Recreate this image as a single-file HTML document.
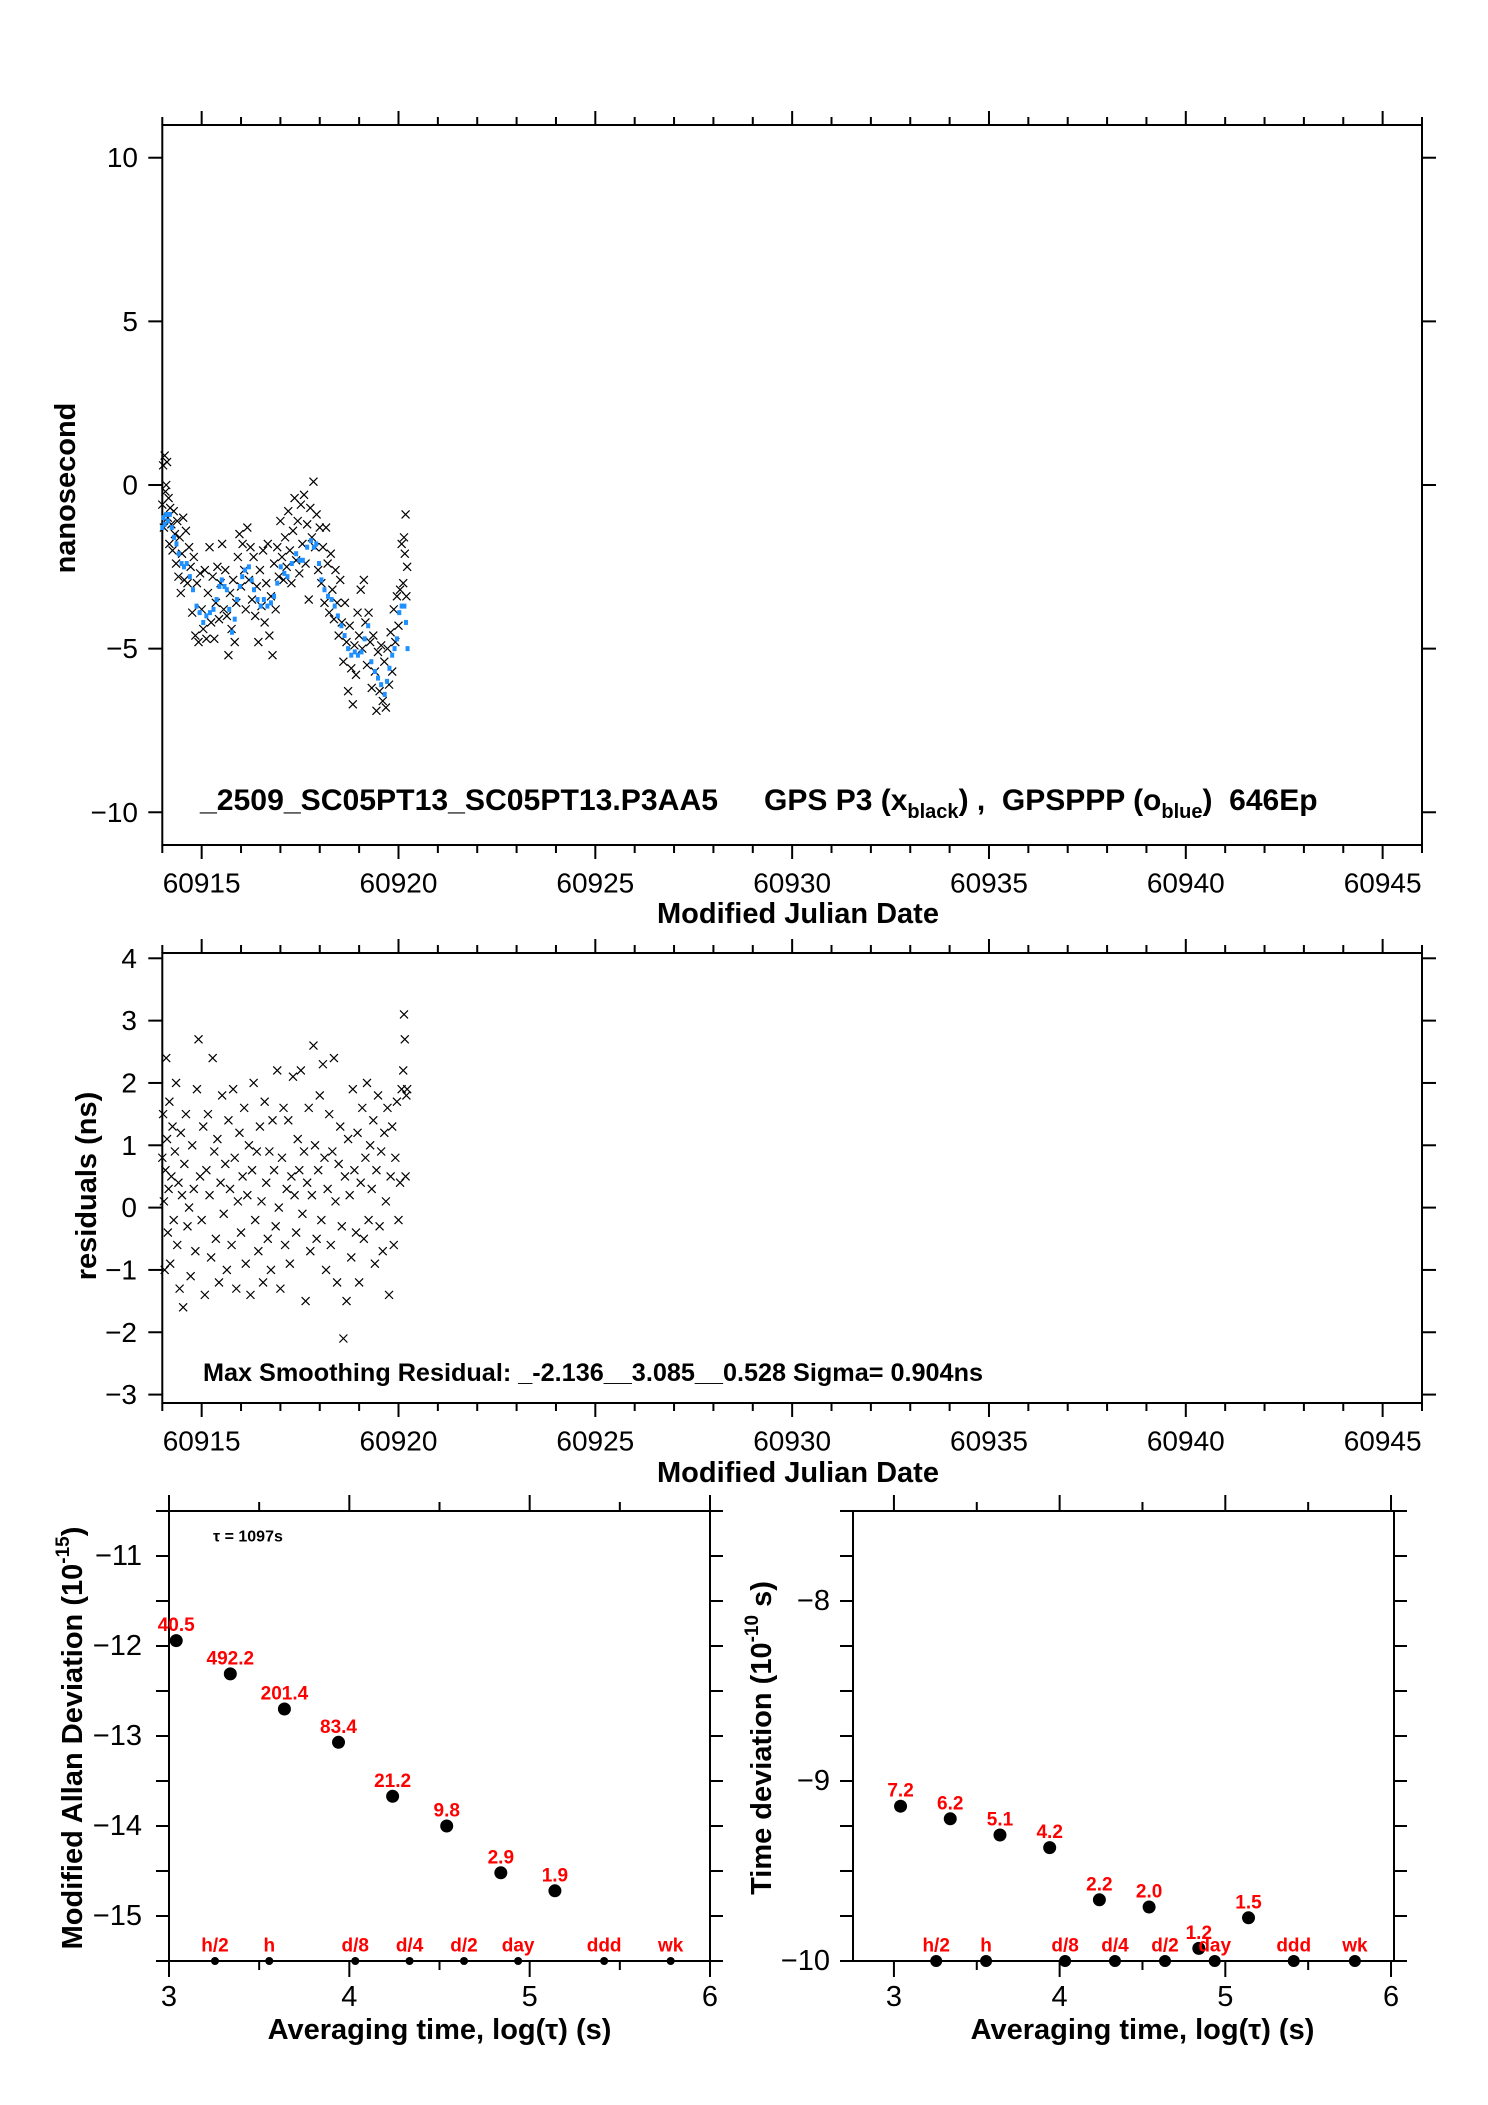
<!DOCTYPE html>
<html><head><meta charset="utf-8"><style>
html,body{margin:0;padding:0;background:#fff}
svg{display:block}
text{font-family:"Liberation Sans",sans-serif}
</style></head><body>
<svg id="chart" width="1488" height="2105" viewBox="0 0 1488 2105" xmlns="http://www.w3.org/2000/svg"></svg>
<script>
// ---------- data ----------
const mjdBase = 60914;
const mjdTicks = [60915,60920,60925,60930,60935,60940,60945];
const phaseTicks = [10,5,0,-5,-10];
const residTicks = [4,3,2,1,0,-1,-2,-3];
const blackT = [0.00,0.02,0.04,0.06,0.08,0.10,0.12,0.14,0.16,0.18,0.20,0.23,0.26,0.29,0.32,0.35,0.38,0.41,0.44,0.47,0.50,0.53,0.56,0.60,0.64,0.68,0.72,0.76,0.80,0.84,0.88,0.92,0.96,1.00,1.04,1.08,1.12,1.16,1.20,1.24,1.28,1.32,1.36,1.40,1.44,1.48,1.52,1.56,1.60,1.64,1.68,1.72,1.76,1.80,1.84,1.88,1.92,1.96,2.00,2.04,2.08,2.12,2.16,2.20,2.24,2.28,2.32,2.36,2.40,2.44,2.48,2.52,2.56,2.60,2.64,2.68,2.72,2.76,2.80,2.84,2.88,2.92,2.96,3.00,3.04,3.08,3.12,3.16,3.20,3.24,3.28,3.32,3.36,3.40,3.44,3.48,3.52,3.56,3.60,3.64,3.68,3.72,3.76,3.80,3.84,3.88,3.92,3.96,4.00,4.04,4.08,4.12,4.16,4.20,4.24,4.28,4.32,4.36,4.40,4.44,4.48,4.52,4.56,4.60,4.64,4.68,4.72,4.76,4.80,4.84,4.88,4.92,4.96,5.00,5.04,5.08,5.12,5.16,5.20,5.24,5.28,5.32,5.36,5.40,5.44,5.48,5.52,5.56,5.60,5.64,5.68,5.72,5.76,5.80,5.84,5.88,5.92,5.96,6.00,6.04,6.08,6.12,6.14,6.16,6.18,6.20,6.22];
const blackV = [-0.6,0.6,-1.3,0.9,-0.2,0.0,0.7,-1.0,-0.4,-1.8,-0.7,-1.2,-2.0,-0.8,-1.5,-2.4,-1.1,-2.8,-1.6,-3.3,-2.1,-1.0,-2.9,-1.4,-3.0,-1.9,-2.5,-3.9,-2.2,-4.6,-3.0,-4.8,-2.7,-3.8,-4.4,-2.6,-4.7,-3.3,-1.9,-4.2,-2.8,-4.7,-3.6,-2.5,-4.1,-3.0,-1.8,-3.8,-2.6,-4.0,-5.2,-3.3,-4.4,-2.9,-4.8,-3.6,-2.2,-1.5,-3.1,-1.8,-2.6,-3.8,-1.3,-2.9,-1.9,-3.5,-2.2,-4.0,-3.1,-4.8,-2.6,-3.7,-2.0,-4.2,-3.0,-1.8,-4.6,-3.4,-5.2,-2.4,-3.8,-1.9,-2.8,-1.1,-2.2,-2.9,-1.6,-2.5,-0.8,-2.0,-3.0,-1.4,-0.4,-2.3,-1.1,-2.7,-0.6,-1.8,-0.3,-2.4,-1.2,-3.5,-0.7,-1.6,0.1,-1.9,-0.9,-2.6,-1.3,-3.0,-1.9,-3.6,-1.3,-2.4,-3.9,-2.1,-3.2,-4.1,-2.6,-3.6,-4.6,-2.9,-4.2,-5.4,-3.6,-4.8,-6.3,-4.3,-5.6,-6.7,-4.9,-5.8,-3.9,-4.6,-3.2,-5.0,-2.9,-4.2,-5.5,-3.9,-4.8,-6.2,-4.6,-5.7,-6.9,-5.1,-6.3,-4.9,-6.6,-5.4,-6.8,-5.0,-6.1,-4.5,-5.7,-3.8,-4.8,-3.4,-4.3,-3.2,-1.8,-3.0,-1.6,-2.1,-0.9,-3.4,-2.5];
const blueT = [0.00,0.03,0.06,0.10,0.14,0.19,0.24,0.30,0.36,0.42,0.49,0.55,0.62,0.70,0.78,0.87,0.95,1.04,1.12,1.21,1.30,1.38,1.45,1.51,1.58,1.64,1.70,1.77,1.84,1.90,1.97,2.03,2.10,2.20,2.27,2.33,2.42,2.50,2.58,2.67,2.76,2.84,2.92,3.01,3.10,3.18,3.29,3.40,3.48,3.57,3.68,3.78,3.85,3.91,3.98,4.04,4.12,4.21,4.30,4.38,4.46,4.55,4.63,4.72,4.80,4.89,4.97,5.06,5.14,5.23,5.31,5.40,5.48,5.56,5.65,5.71,5.77,5.84,5.90,5.96,6.02,6.08,6.15,6.19,6.23];
const blueV = [-1.3,-1.0,-1.2,-0.9,-1.1,-0.9,-1.3,-1.6,-1.8,-2.1,-2.4,-2.5,-2.4,-2.8,-3.2,-3.7,-3.9,-4.2,-4.0,-3.9,-3.8,-3.5,-3.1,-2.9,-3.1,-3.2,-3.8,-4.5,-4.1,-3.5,-3.1,-2.8,-2.6,-2.5,-2.9,-3.2,-3.5,-3.7,-3.5,-3.7,-3.6,-3.4,-3.0,-2.5,-2.7,-2.8,-2.4,-2.1,-2.3,-2.3,-1.9,-1.7,-1.9,-1.8,-2.4,-2.9,-3.2,-3.4,-3.5,-3.7,-4.0,-4.3,-4.6,-5.0,-5.2,-5.1,-5.2,-5.1,-4.7,-4.3,-5.4,-5.7,-5.9,-6.1,-6.4,-6.0,-5.6,-5.2,-5.0,-4.7,-3.9,-3.7,-3.7,-4.2,-5.0];
const residT = [0.00,0.02,0.04,0.06,0.08,0.10,0.12,0.14,0.16,0.18,0.20,0.23,0.26,0.29,0.32,0.35,0.38,0.41,0.44,0.47,0.50,0.53,0.56,0.60,0.64,0.68,0.72,0.76,0.80,0.84,0.88,0.92,0.96,1.00,1.04,1.08,1.12,1.16,1.20,1.24,1.28,1.32,1.36,1.40,1.44,1.48,1.52,1.56,1.60,1.64,1.68,1.72,1.76,1.80,1.84,1.88,1.92,1.96,2.00,2.04,2.08,2.12,2.16,2.20,2.24,2.28,2.32,2.36,2.40,2.44,2.48,2.52,2.56,2.60,2.64,2.68,2.72,2.76,2.80,2.84,2.88,2.92,2.96,3.00,3.04,3.08,3.12,3.16,3.20,3.24,3.28,3.32,3.36,3.40,3.44,3.48,3.52,3.56,3.60,3.64,3.68,3.72,3.76,3.80,3.84,3.88,3.92,3.96,4.00,4.04,4.08,4.12,4.16,4.20,4.24,4.28,4.32,4.36,4.40,4.44,4.48,4.52,4.56,4.60,4.64,4.68,4.72,4.76,4.80,4.84,4.88,4.92,4.96,5.00,5.04,5.08,5.12,5.16,5.20,5.24,5.28,5.32,5.36,5.40,5.44,5.48,5.52,5.56,5.60,5.64,5.68,5.72,5.76,5.80,5.84,5.88,5.92,5.96,6.00,6.04,6.08,6.12,6.14,6.16,6.18,6.20,6.22];
const residV = [0.8,1.5,0.1,-1.0,0.6,2.4,1.1,-0.4,0.3,1.7,-0.9,0.5,1.3,-0.2,0.9,2.0,-0.6,0.4,-1.3,1.2,0.2,-1.6,0.7,1.5,-0.3,0.0,-1.1,1.0,0.3,-0.7,1.9,2.7,0.5,-0.2,1.3,-1.4,0.6,1.5,0.2,-0.8,2.4,0.9,-0.5,1.1,-1.2,0.4,1.8,-0.1,0.7,-1.0,1.4,0.3,-0.6,1.9,0.8,-1.3,0.1,1.2,-0.4,0.5,1.6,-0.9,0.2,1.0,-1.4,0.6,2.0,-0.2,0.9,-0.7,1.3,0.1,-1.2,1.7,0.4,-0.5,0.9,-1.0,1.4,0.6,-0.3,2.2,0.0,-1.3,0.8,1.6,-0.6,0.3,1.4,-0.9,0.5,2.1,0.2,-0.4,1.1,0.6,2.2,-0.1,0.9,-1.5,0.4,1.6,-0.7,0.2,2.6,1.0,-0.5,0.6,1.8,-0.2,2.3,0.8,-1.0,0.3,1.5,-0.6,0.9,2.4,0.1,-1.2,0.7,1.3,-0.3,-2.1,0.5,-1.5,1.1,0.2,-0.8,1.9,0.6,-0.4,1.2,-1.2,0.4,1.6,-0.5,0.8,2.0,-0.2,1.0,0.3,1.4,-0.9,0.6,1.8,-0.3,0.9,-0.7,1.2,0.1,1.6,-1.4,0.5,1.3,-0.6,0.8,1.7,-0.2,0.4,1.9,2.2,3.1,2.7,0.5,1.8,1.9];
const logTau = [3.04,3.34,3.64,3.94,4.24,4.54,4.84,5.14];
const adevV = [-11.94,-12.31,-12.70,-13.07,-13.67,-14.00,-14.52,-14.72];
const adevLabels = ["40.5","492.2","201.4","83.4","21.2","9.8","2.9","1.9"];
const tdevV = [-9.14,-9.21,-9.30,-9.37,-9.66,-9.70,-9.93,-9.76];
const tdevLabels = ["7.2","6.2","5.1","4.2","2.2","2.0","1.2","1.5"];
const refNames = ["h/2","h","d/8","d/4","d/2","day","ddd","wk"];
const refLog = [3.255,3.556,4.033,4.334,4.636,4.936,5.413,5.782];
const logTicks = [3,4,5,6];
const adevTicks = [-11,-12,-13,-14,-15];
const tdevTicks = [-8,-9,-10];

// ---------- helpers ----------
const NS="http://www.w3.org/2000/svg";
const svg=document.getElementById('chart');
function mk(tag,attrs,parent){const e=document.createElementNS(NS,tag);for(const k in attrs)e.setAttribute(k,attrs[k]);(parent||svg).appendChild(e);return e;}
function line(x1,y1,x2,y2,p,w){return mk('line',{x1,y1,x2,y2,stroke:'#000','stroke-width':w||2},p);}
function txt(s,x,y,o,p){const e=mk('text',Object.assign({x,y,'font-size':26,'text-anchor':'middle','dominant-baseline':'central'},o||{}),p);e.textContent=s;return e;}
function lin(d0,d1,p0,p1){return v=>p0+(v-d0)*(p1-p0)/(d1-d0);}
function group(name){const g=mk('g',{});return g;}

// ---------- panel 1: phase ----------
const P1={l:162.3,r:1422,t:125,b:845};
const x1=lin(60914,60946,P1.l,P1.r), y1=lin(11,-11,P1.t,P1.b);
function mjdFrame(P,xs,g){
  mk('rect',{x:P.l,y:P.t,width:P.r-P.l,height:P.b-P.t,fill:'none',stroke:'#000','stroke-width':2},g);
  for(let d=60914;d<=60946;d++){const X=xs(d);const L=(d%5===0)?14:8;line(X,P.t,X,P.t-L,g);line(X,P.b,X,P.b+L,g);}
}
const g1=group('phase-plot');
mjdFrame(P1,x1,g1);
phaseTicks.forEach(v=>{const Y=y1(v);line(P1.l,Y,P1.l-14,Y,g1);line(P1.r,Y,P1.r+14,Y,g1);
  txt(String(v).replace('-','\u2212'),138,Y,{'text-anchor':'end','font-size':28},g1);});
mjdTicks.forEach(m=>txt(String(m),x1(m),883,{'font-size':28},g1));
const t1=txt('Modified Julian Date',798,914,{'font-weight':'bold','font-size':29},g1);
const yt1=txt('nanosecond',0,0,{'font-weight':'bold','font-size':29,transform:'translate(66,488) rotate(-90)'},g1);

const ann=mk('text',{x:200,y:810,'font-size':30,'font-weight':'bold',textLength:518,lengthAdjust:'spacingAndGlyphs'},g1);

ann.textContent='_2509_SC05PT13_SC05PT13.P3AA5';
const ann2b=mk('text',{x:764,y:810,'font-size':30,'font-weight':'bold'},g1);

ann2b.innerHTML='GPS P3 (x<tspan font-size="20" dy="8">black</tspan><tspan dy="-8">) ,&#160; GPSPPP (o</tspan><tspan font-size="20" dy="8">blue</tspan><tspan dy="-8">)&#160; 646Ep</tspan>';
const bs=group('gps-p3-series');g1.appendChild(bs);
blackT.forEach((t,i)=>{const X=x1(mjdBase+t),Y=y1(blackV[i]);
  const p=mk('path',{d:`M${X-4},${Y-4}L${X+4},${Y+4}M${X-4},${Y+4}L${X+4},${Y-4}`,stroke:'#000','stroke-width':1.2},bs);
  });
const bl=group('gpsppp-series');g1.appendChild(bl);
blueT.forEach((t,i)=>{const X=x1(mjdBase+t),Y=y1(blueV[i]);
  const r=mk('rect',{x:X-2,y:Y-2.5,width:4,height:5,fill:'#1e90ff'},bl);
  });

// ---------- panel 2: residuals ----------
const P2={l:162.3,r:1422,t:953,b:1403};
const x2=lin(60914,60946,P2.l,P2.r), y2=lin(4.085,-3.135,P2.t,P2.b);
const g2=group('residual-plot');
mjdFrame(P2,x2,g2);
residTicks.forEach(v=>{const Y=y2(v);line(P2.l,Y,P2.l-14,Y,g2);line(P2.r,Y,P2.r+14,Y,g2);
  txt(String(v).replace('-','\u2212'),137,Y,{'text-anchor':'end','font-size':28},g2);});
mjdTicks.forEach(m=>txt(String(m),x2(m),1441,{'font-size':28},g2));
const t2=txt('Modified Julian Date',798,1473,{'font-weight':'bold','font-size':29},g2);
const yt2=txt('residuals (ns)',0,0,{'font-weight':'bold','font-size':29,transform:'translate(87,1186) rotate(-90)'},g2);

const ann2=txt('Max Smoothing Residual: _-2.136__3.085__0.528  Sigma= 0.904ns',203,1373,{'text-anchor':'start','font-weight':'bold','font-size':25,textLength:780,lengthAdjust:'spacingAndGlyphs'},g2);

residT.forEach((t,i)=>{const X=x2(mjdBase+t),Y=y2(residV[i]);
  const p=mk('path',{d:`M${X-4},${Y-4}L${X+4},${Y+4}M${X-4},${Y+4}L${X+4},${Y-4}`,stroke:'#000','stroke-width':1.2},g2);
  });

// ---------- panels 3/4 ----------
function devPanel(name,P,xd,yd,yTicks,minorStep,vals,labels,title,titleX,labelX,dotR){
  const g=group(name);
  const xs=lin(xd[0],xd[1],P.l,P.r), ys=lin(yd[0],yd[1],P.t,P.b);
  mk('rect',{x:P.l,y:P.t,width:P.r-P.l,height:P.b-P.t,fill:'none',stroke:'#000','stroke-width':2},g);
  for(let v=3;v<=6.001;v+=0.5){const X=xs(v);const L=(Math.abs(v-Math.round(v))<0.01)?16:9;line(X,P.t,X,P.t-L,g);line(X,P.b,X,P.b+L,g);}
  for(let v=Math.ceil(yd[1]/minorStep)*minorStep;v<=yd[0]+1e-6;v+=minorStep){const Y=ys(v);line(P.l,Y,P.l-13,Y,g);line(P.r,Y,P.r+13,Y,g);}
  yTicks.forEach(v=>txt(String(v).replace('-','\u2212'),labelX,ys(v),{'text-anchor':'end','font-size':29},g));
  logTicks.forEach(v=>txt(String(v),xs(v),1997,{'font-size':29},g));
  const tt=txt('Averaging time, log(\u03c4) (s)',(xs(3)+xs(6))/2,2030,{'font-weight':'bold','font-size':29},g);
  
  const yt=mk('text',{x:0,y:0,'font-size':29,'font-weight':'bold','text-anchor':'middle','dominant-baseline':'central',transform:`translate(${titleX},1738) rotate(-90)`},g);
  
  yt.innerHTML=title;
  logTau.forEach((lt,i)=>{const X=xs(lt),Y=ys(vals[i]);
    const c=mk('circle',{cx:X,cy:Y,r:6.5,fill:'#000'},g);
    const l=txt(labels[i],X,Y-15,{'font-size':19,'font-weight':'bold',fill:'#ff0000'},g);});
  refLog.forEach((lt,i)=>{const X=xs(lt);
    const c=mk('circle',{cx:X,cy:P.b,r:dotR,fill:'#000'},g);
    const l=txt(refNames[i],X,P.b-15,{'font-size':19,'font-weight':'bold',fill:'#ff0000'},g);});
  return {g,xs,ys};
}
const A=devPanel('adev-plot',{l:169,r:710,t:1511,b:1961},[3,6],[-10.5,-15.5],adevTicks,0.5,adevV,adevLabels,
 'Modified Allan Deviation (10<tspan font-size="19" dy="-10">-15</tspan><tspan dy="10">)</tspan>',73,142,4);
const tauNote=txt('\u03c4 = 1097s',213,1537,{'text-anchor':'start','font-size':16,'font-weight':'bold'},A.g);

devPanel('tdev-plot',{l:853,r:1394,t:1511,b:1961},[2.753,6.018],[-7.5,-10],tdevTicks,0.25,tdevV,tdevLabels,
 'Time deviation (10<tspan font-size="19" dy="-10">-10</tspan><tspan dy="10"> s)</tspan>',762,830,6);
</script>
</body></html>
